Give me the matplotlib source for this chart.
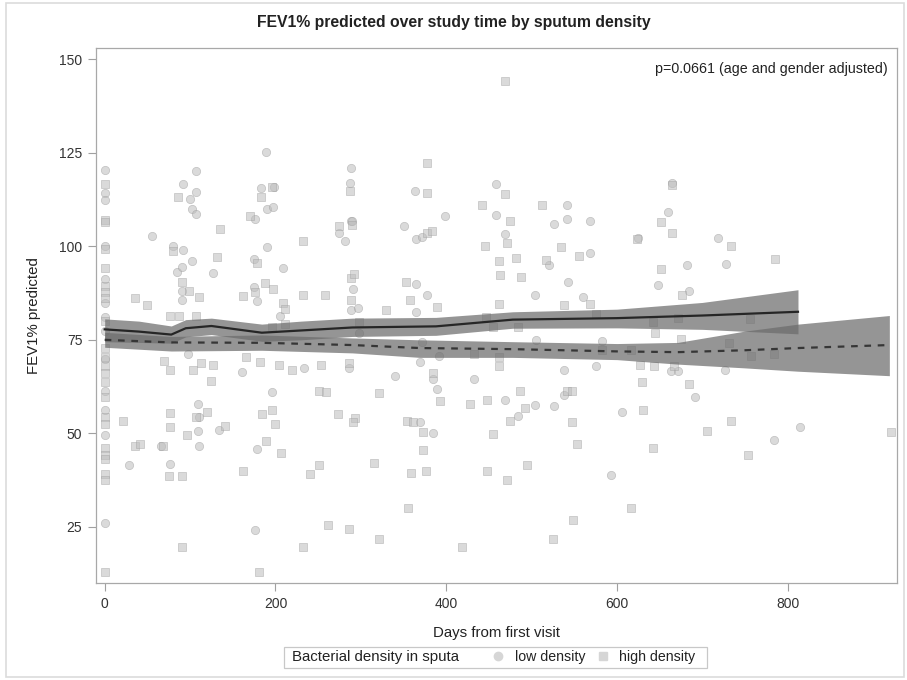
import matplotlib.pyplot as plt
from matplotlib.lines import Line2D
from matplotlib.patches import Rectangle

plt.rcParams['font.family'] = ['Liberation Sans', 'DejaVu Sans']

# ===== DATA =====
# low density -> circles
low_days = [0, 0, 0, 0, 0, 0, 0, 0, 0, 0, 0, 0, 0,
            28, 56, 66, 76, 80, 85, 92, 92, 91, 91, 91, 98, 100, 102, 107, 107, 102, 107,
            109, 110, 109, 110, 127, 134, 161, 176, 175, 175, 178, 176, 178, 183, 189, 190,
            197, 198, 190, 196, 205, 209, 234, 275, 281, 286, 287, 288, 289, 288, 297, 291, 290,
            458, 458, 399, 351, 365, 372, 469, 541, 541, 526, 568, 568, 520, 543, 365, 378, 365,
            504, 560, 298, 372, 392, 505, 582, 369, 340, 384, 433, 389, 469, 484, 504, 526, 538,
            538, 575, 369, 385, 593, 364,
            664, 660, 625, 718, 682, 728, 648, 684, 663, 671, 727, 691, 606, 814, 784]
low_fev = [120.5, 114.2, 112.4, 100.2, 91.4, 84.8, 81.0, 77.3, 69.9, 61.4, 56.3, 49.5, 26.1,
           41.4, 102.8, 46.5, 41.8, 100.2, 93.2, 116.6, 99.1, 94.6, 88.1, 85.7, 71.3, 112.7, 96.0,
           120.1, 114.5, 109.9, 108.6, 57.7, 54.4, 50.7, 46.5, 92.8, 51.0, 66.3, 107.4, 96.5, 89.0,
           85.3, 24.1, 45.7, 115.7, 125.2, 110.0, 110.5, 115.8, 99.8, 61.0, 81.5, 94.3, 67.5,
           103.7, 101.4, 67.5, 117.0, 121.0, 106.8, 83.0, 83.6, 88.7, 106.8,
           116.6, 108.4, 108.2, 105.4, 102.1, 102.5, 103.3, 111.0, 107.2, 106.1, 106.8, 98.2, 95.1,
           90.6, 89.8, 86.9, 82.5, 87.1, 86.5, 76.9, 74.3, 70.8, 75.0, 74.7, 69.1, 65.2, 64.4, 64.5,
           61.9, 58.8, 54.7, 57.5, 57.2, 60.3, 67.0, 68.0, 52.9, 50.0, 38.8, 114.7,
           117.0, 109.1, 102.3, 102.3, 95.1, 95.4, 89.7, 88.1, 66.6, 66.6, 66.8, 59.6, 55.8, 51.6, 48.2]

# high density -> squares
high_days = [0, 0, 0, 0, 0, 0, 0, 0, 0, 0, 0, 0, 0, 0, 0, 0, 0, 0, 0, 0, 0, 0, 0,
             22, 36, 35, 41, 49, 68, 69, 75, 76, 76, 76, 77, 80, 86, 87, 91, 91, 90, 99, 107, 104,
             107, 96, 110, 113, 120, 124, 127, 131, 135, 141, 162, 162, 165, 170, 178, 176, 182,
             184, 181, 183, 196, 188, 197, 189, 196, 199, 196, 204, 207, 209, 211, 211, 219, 232,
             232, 232, 240, 251, 251, 259, 253, 258, 261, 273, 275, 286, 287, 289, 288, 286,
             469, 378, 378, 469, 442, 475, 290, 378, 383, 471, 446, 512, 534, 555, 462, 482, 517,
             463, 488, 292, 353, 358, 329, 389, 462, 538, 568, 575, 447, 455, 484, 298, 433, 462,
             462, 582, 385, 321, 393, 428, 448, 486, 492, 475, 542, 547, 547, 553, 293, 291, 354,
             361, 373, 455, 373, 315, 359, 376, 448, 471, 495, 355, 548, 321, 419, 525,
             664, 651, 665, 624, 734, 785, 652, 676, 642, 645, 671, 756, 675, 731, 616, 757, 784,
             627, 643, 667, 629, 684, 631, 706, 734, 642, 753, 921, 616]
high_fev = [116.8, 107.0, 106.5, 99.3, 94.2, 89.5, 87.8, 86.2, 80.1, 72.7, 70.3, 68.0, 66.1,
            63.8, 59.6, 54.4, 52.6, 46.0, 44.2, 43.2, 39.0, 37.6, 12.9,
            53.2, 86.2, 46.7, 47.2, 84.3, 46.5, 69.3, 38.6, 55.4, 51.6, 66.8, 81.3, 98.8, 113.3,
            81.3, 19.6, 38.6, 90.4, 88.1, 81.5, 66.9, 54.4, 49.5, 86.5, 68.7, 55.7, 64.1, 68.3,
            97.2, 104.7, 52.0, 40.0, 86.7, 70.3, 108.2, 95.6, 87.8, 69.0, 55.1, 12.9, 113.3, 115.8,
            90.1, 88.7, 47.9, 56.3, 52.6, 78.5, 68.2, 44.6, 84.8, 83.2, 79.2, 67.0, 101.4, 86.9,
            19.6, 39.0, 41.4, 61.4, 61.0, 68.3, 86.9, 25.5, 55.1, 105.4, 68.9, 114.7, 91.5, 85.7, 24.5,
            144.2, 122.2, 114.3, 114.0, 111.2, 106.8, 105.8, 103.7, 104.1, 100.9, 100.0, 111.0,
            99.8, 97.4, 96.0, 97.0, 96.3, 92.3, 91.8, 92.5, 90.6, 85.6, 83.0, 83.7, 84.6, 84.2,
            84.6, 81.8, 81.0, 78.5, 78.5, 79.7, 71.3, 70.3, 68.0, 72.2, 66.1, 60.7, 58.6, 57.7,
            58.8, 61.3, 56.8, 53.2, 61.4, 61.4, 53.0, 47.0, 54.1, 53.0, 53.2, 53.0, 50.4, 49.8,
            45.4, 42.1, 39.3, 40.0, 40.0, 37.6, 41.6, 30.1, 26.9, 21.7, 19.6, 21.7,
            116.4, 106.5, 103.5, 102.0, 100.0, 96.5, 94.0, 86.9, 79.7, 76.9, 80.9, 80.6, 75.3,
            74.1, 72.2, 70.8, 71.3, 68.2, 68.0, 68.0, 63.8, 63.3, 56.3, 50.7, 53.2, 46.0, 44.3,
            50.4, 30.1]

# fitted curves with confidence bands
solid_days = [0, 40, 78, 95, 125, 184, 230, 290, 388, 478, 600, 700, 812]
solid_fit = [77.8, 77.2, 76.4, 78.1, 78.7, 76.9, 77.5, 78.3, 78.6, 80.4, 80.8, 81.5, 82.5]
solid_hi = [80.6, 80.0, 78.7, 80.4, 80.8, 79.2, 80.0, 80.8, 81.0, 82.5, 83.2, 85.0, 88.4]
solid_lo = [74.5, 74.3, 74.1, 75.8, 76.4, 74.6, 75.0, 75.9, 76.2, 78.1, 78.2, 77.8, 76.6]

dash_days = [0, 78, 184, 290, 369, 478, 600, 671, 749, 812, 919]
dash_fit = [75.0, 74.3, 74.2, 73.6, 72.8, 72.5, 71.9, 71.7, 72.2, 72.8, 73.6]
dash_hi = [77.0, 75.9, 76.3, 75.5, 75.0, 74.5, 74.0, 74.3, 77.3, 79.2, 81.5]
dash_lo = [73.0, 72.0, 72.2, 71.5, 70.3, 70.3, 69.7, 68.5, 67.5, 66.6, 65.4]

y_ticks = [25, 50, 75, 100, 125, 150]
x_ticks = [0, 200, 400, 600, 800]

# ===== PLOT =====
fig = plt.figure(figsize=(9.07, 6.8), dpi=100)
ax = fig.add_axes([0.106, 0.143, 0.883, 0.786])

mk_face = '#bdbdbd'
mk_edge = '#9c9c9c'
ax.scatter(low_days, low_fev, s=36, marker='o', facecolor=mk_face, edgecolor=mk_edge,
           linewidths=0.5, alpha=0.55, zorder=2)
ax.scatter(high_days, high_fev, s=36, marker='s', facecolor=mk_face, edgecolor=mk_edge,
           linewidths=0.5, alpha=0.55, zorder=2)

band = '#6c6c6c'
ax.fill_between(solid_days, solid_lo, solid_hi, color=band, alpha=0.72, lw=0, zorder=3)
ax.fill_between(dash_days, dash_lo, dash_hi, color=band, alpha=0.72, lw=0, zorder=3)
ax.plot(solid_days, solid_fit, color='#262626', lw=1.6, zorder=4)
ax.plot(dash_days, dash_fit, color='#363636', lw=1.6, dashes=(3, 3), zorder=4)

ax.set_xlim(-10, 928)
ax.set_ylim(10, 153)
ax.set_xticks(x_ticks)
ax.set_yticks(y_ticks)
for sp in ax.spines.values():
    sp.set_color('#a8a8a8')
    sp.set_linewidth(0.9)
ax.tick_params(direction='out', length=6, width=0.8, color='#a0a0a0',
               labelcolor='#333333', labelsize=10, pad=4)

ax.set_xlabel('Days from first visit', fontsize=10.8, color='#222222', labelpad=11)
ax.set_ylabel('FEV1% predicted', fontsize=10.8, color='#222222', labelpad=13)

ax.text(0.989, 0.975, 'p=0.0661 (age and gender adjusted)', transform=ax.transAxes,
        ha='right', va='top', fontsize=10.3, color='#222222')

fig.text(0.5, 0.967, 'FEV1% predicted over study time by sputum density',
         ha='center', va='center', fontsize=11.3, fontweight='bold', color='#222222')

# legend: title text on the left, entries to the right, one frame around all
leg_y = 0.034
fig.text(0.322, leg_y, 'Bacterial density in sputa', ha='left', va='center',
         fontsize=10.8, color='#222222')
handles = [
    Line2D([], [], linestyle='none', marker='o', markersize=6, markerfacecolor='#d6d6d6',
           markeredgecolor='#d6d6d6'),
    Line2D([], [], linestyle='none', marker='s', markersize=6, markerfacecolor='#d6d6d6',
           markeredgecolor='#d6d6d6'),
]
leg = fig.legend(handles, ['low density', 'high density'], loc='center left',
                 bbox_to_anchor=(0.5425, leg_y), ncol=2, fontsize=10.2, frameon=False,
                 handlelength=0.9, handletextpad=0.7, columnspacing=0.8, borderpad=0,
                 borderaxespad=0)
for t in leg.get_texts():
    t.set_color('#222222')
fig.patches.append(Rectangle((0.313, 0.0176), 0.4664, 0.0309, transform=fig.transFigure,
                             fill=False, edgecolor='#c8c8c8', lw=0.9))

# light outer frame around the whole graph
fig.patches.append(Rectangle((0.007, 0.004), 0.99, 0.991, transform=fig.transFigure,
                             fill=False, edgecolor='#dcdcdc', lw=1.2))

plt.savefig('out.png', dpi=100)
